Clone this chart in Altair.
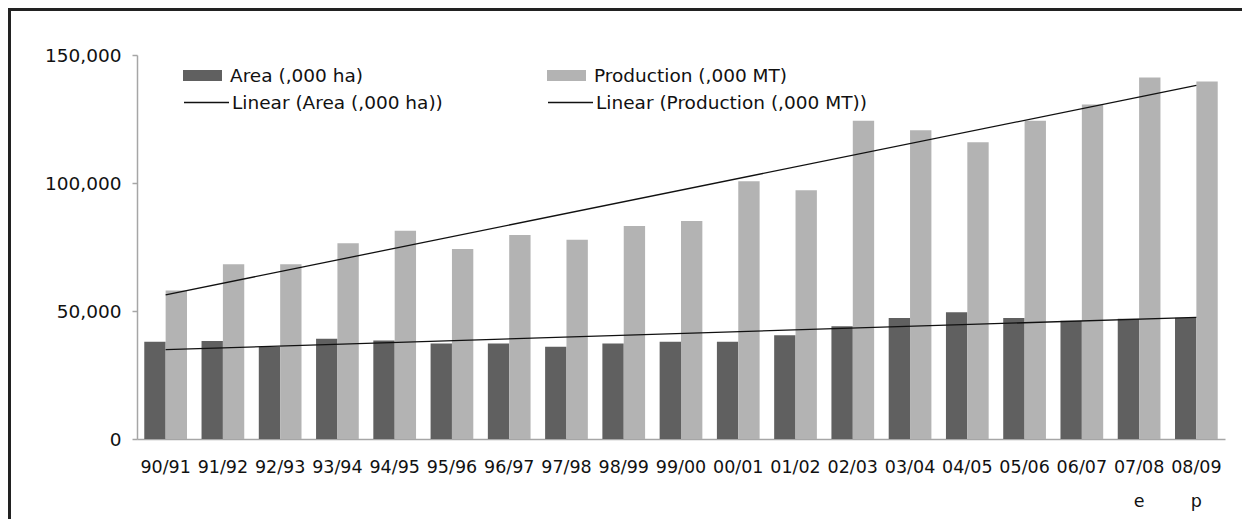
import altair as alt
import pandas as pd

seasons = ["90/91", "91/92", "92/93", "93/94", "94/95", "95/96", "96/97", "97/98",
           "98/99", "99/00", "00/01", "01/02", "02/03", "03/04", "04/05", "05/06",
           "06/07", "07/08 e", "08/09 p"]
area = [38000, 38300, 36000, 39200, 38500, 37300, 37300, 36000, 37300, 38000,
        38000, 40500, 44000, 47300, 49500, 47300, 46200, 47000, 47400]
production = [58000, 68300, 68300, 76500, 81300, 74200, 79700, 77800, 83200, 85200,
              100700, 97200, 124300, 120600, 115900, 124300, 130700, 141200, 139600]
series_names = ["Area (,000 ha)", "Production (,000 MT)"]
trend_names = ["Linear (Area (,000 ha))", "Linear (Production (,000 MT))"]
bar_colors = ["#606060", "#b3b3b3"]
y_ticks = [0, 50000, 100000, 150000]

rows = []
for i, s in enumerate(seasons):
    rows.append({"season": s, "idx": i + 1, "series": series_names[0], "value": area[i]})
    rows.append({"season": s, "idx": i + 1, "series": series_names[1], "value": production[i]})
df = pd.DataFrame(rows)

FONT = "DejaVu Sans"

y_axis = alt.Axis(values=y_ticks, format=",.0f", grid=False,
                  tickSize=5, tickColor="#a6a6a6", domainColor="#a6a6a6",
                  domainWidth=1.5, tickWidth=1.5, labelPadding=11,
                  labelFont=FONT, labelFontSize=18.5, labelColor="#111")
y_scale = alt.Scale(domain=[0, 150000], nice=False)

bars = alt.Chart(df).mark_bar().encode(
    x=alt.X("season:N", sort=seasons, title=None,
            scale=alt.Scale(paddingInner=0.254, paddingOuter=0.127),
            axis=alt.Axis(labelAngle=0, ticks=False, tickSize=0, labelPadding=19,
                          labelFont=FONT, labelFontSize=17.5, labelColor="#111",
                          labelLineHeight=34, domainColor="#a6a6a6", domainWidth=1.5,
                          labelExpr="split(datum.value, ' ')")),
    xOffset=alt.XOffset("series:N", sort=series_names, scale=alt.Scale(paddingInner=0, paddingOuter=0)),
    y=alt.Y("value:Q", title=None, scale=y_scale, axis=y_axis),
    fill=alt.Fill("series:N", sort=series_names,
                  scale=alt.Scale(domain=series_names, range=bar_colors),
                  legend=alt.Legend(title=None, orient="none", legendX=46, legendY=-2,
                                    columns=2, columnPadding=183, labelOffset=2, labelLimit=0,
                                    symbolType="M-1,-0.244L0.733,-0.244L0.733,0.244L-1,0.244Z",
                                    symbolSize=2025, symbolStrokeWidth=0, padding=0,
                                    labelFont=FONT, labelFontSize=18.5, labelColor="#111")),
)

lines = alt.Chart(df).transform_regression(
    "idx", "value", groupby=["series"], method="linear", extent=[1, 19]
).transform_calculate(
    trend="'Linear (' + datum.series + ')'"
).mark_line(strokeWidth=1.3).encode(
    x=alt.X("idx:Q", scale=alt.Scale(domain=[0.5, 19.5], nice=False, zero=False), axis=None),
    y=alt.Y("value:Q", title=None, scale=y_scale, axis=y_axis),
    detail="series:N",
    stroke=alt.Stroke("trend:N", sort=trend_names,
                      scale=alt.Scale(domain=trend_names, range=["#111111", "#111111"]),
                      legend=alt.Legend(title=None, orient="none", legendX=46, legendY=24,
                                        columns=2, columnPadding=102, labelOffset=2, labelLimit=0,
                                        symbolType="stroke", symbolSize=2025,
                                        symbolStrokeWidth=1.3, padding=0,
                                        labelFont=FONT, labelFontSize=18.5, labelColor="#111")),
)

frame = alt.Chart(alt.Data(values=[{}])).mark_rect(
    filled=False, stroke="#222222", strokeWidth=3
).encode(
    x=alt.value(-127.5), y=alt.value(-45.5), x2=alt.value(3000), y2=alt.value(3000)
)

chart = alt.layer(bars, lines, frame).resolve_scale(x="independent").properties(
    width=1088, height=384,
    padding={"left": 129, "top": 47, "right": 17, "bottom": 80},
    autosize=alt.AutoSizeParams(type="none"),
).configure_view(stroke=None)

chart.save("out.html", embed_options={"renderer": "svg", "actions": False})
